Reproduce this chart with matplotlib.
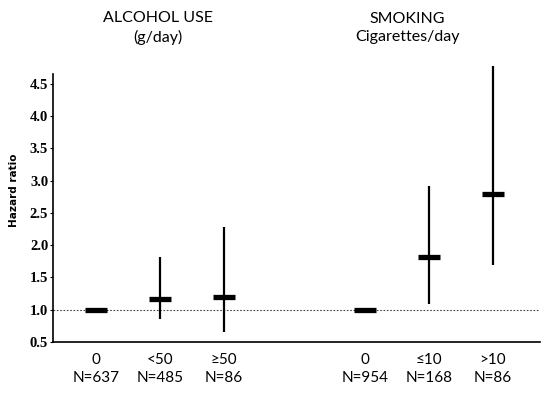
import matplotlib
matplotlib.use("Agg")
import matplotlib.pyplot as plt

categories = ["0", "<50", "\u226550", "0", "\u226410", ">10"]
counts = ["N=637", "N=485", "N=86", "N=954", "N=168", "N=86"]
hr = [1.0, 1.17, 1.20, 1.0, 1.82, 2.80]
ci_low = [1.0, 0.86, 0.65, 1.0, 1.09, 1.70]
ci_high = [1.0, 1.82, 2.28, 1.0, 2.92, 4.78]
group_titles = ["ALCOHOL USE\n(g/day)", "SMOKING\nCigarettes/day"]
yticks = [0.5, 1.0, 1.5, 2.0, 2.5, 3.0, 3.5, 4.0, 4.5]

xpos = [0, 1, 2, 4.2, 5.2, 6.2]

fig = plt.figure(figsize=(5.5, 3.94), dpi=100)
ax = fig.add_axes([53/550, (394-342)/394, (540-53)/550, (342-64)/394])

ax.set_xlim(-0.67, 6.94)
ax.set_ylim(0.5, 4.81)

ax.axhline(1.0, color="#444444", lw=0.8, ls=(0, (1.5, 1.5)), zorder=1)

for x, h, lo, hi in zip(xpos, hr, ci_low, ci_high):
    if hi > lo:
        ax.plot([x, x], [lo, hi], color="black", lw=1.6, solid_capstyle="butt", zorder=2)
    ax.plot([x], [h], marker="_", markersize=16, mew=3.8, color="black", zorder=3)

for s in ["top", "right"]:
    ax.spines[s].set_visible(False)
ax.spines["left"].set_bounds(0.5, 4.65)
ax.spines["left"].set_linewidth(1.2)
ax.spines["bottom"].set_linewidth(1.2)

ax.set_yticks(yticks)
ax.set_yticklabels([f"{v:.1f}" for v in yticks], fontfamily="Liberation Serif",
                   fontweight="bold", fontsize=10.5)
ax.tick_params(axis="y", length=2.5, width=0.8, pad=1)

ax.set_xticks(xpos)
ax.set_xticklabels([f"{c}\n{n}" for c, n in zip(categories, counts)],
                   fontfamily=["Lato", "DejaVu Sans"], fontsize=11, linespacing=1.35)
ax.tick_params(axis="x", length=0, pad=8)

ax.set_ylabel("Hazard ratio", fontfamily="DejaVu Sans", fontweight="bold", fontsize=7.5)
ax.yaxis.set_label_coords(-0.07, 0.547)

fig.text(158/550, 1-28/394, group_titles[0], ha="center", va="center",
         fontfamily="Lato", fontsize=11.5, linespacing=1.35)
fig.text(407/550, 1-28/394, group_titles[1], ha="center", va="center",
         fontfamily="Lato", fontsize=11.5, linespacing=1.35)

fig.savefig("out.png", dpi=100)
